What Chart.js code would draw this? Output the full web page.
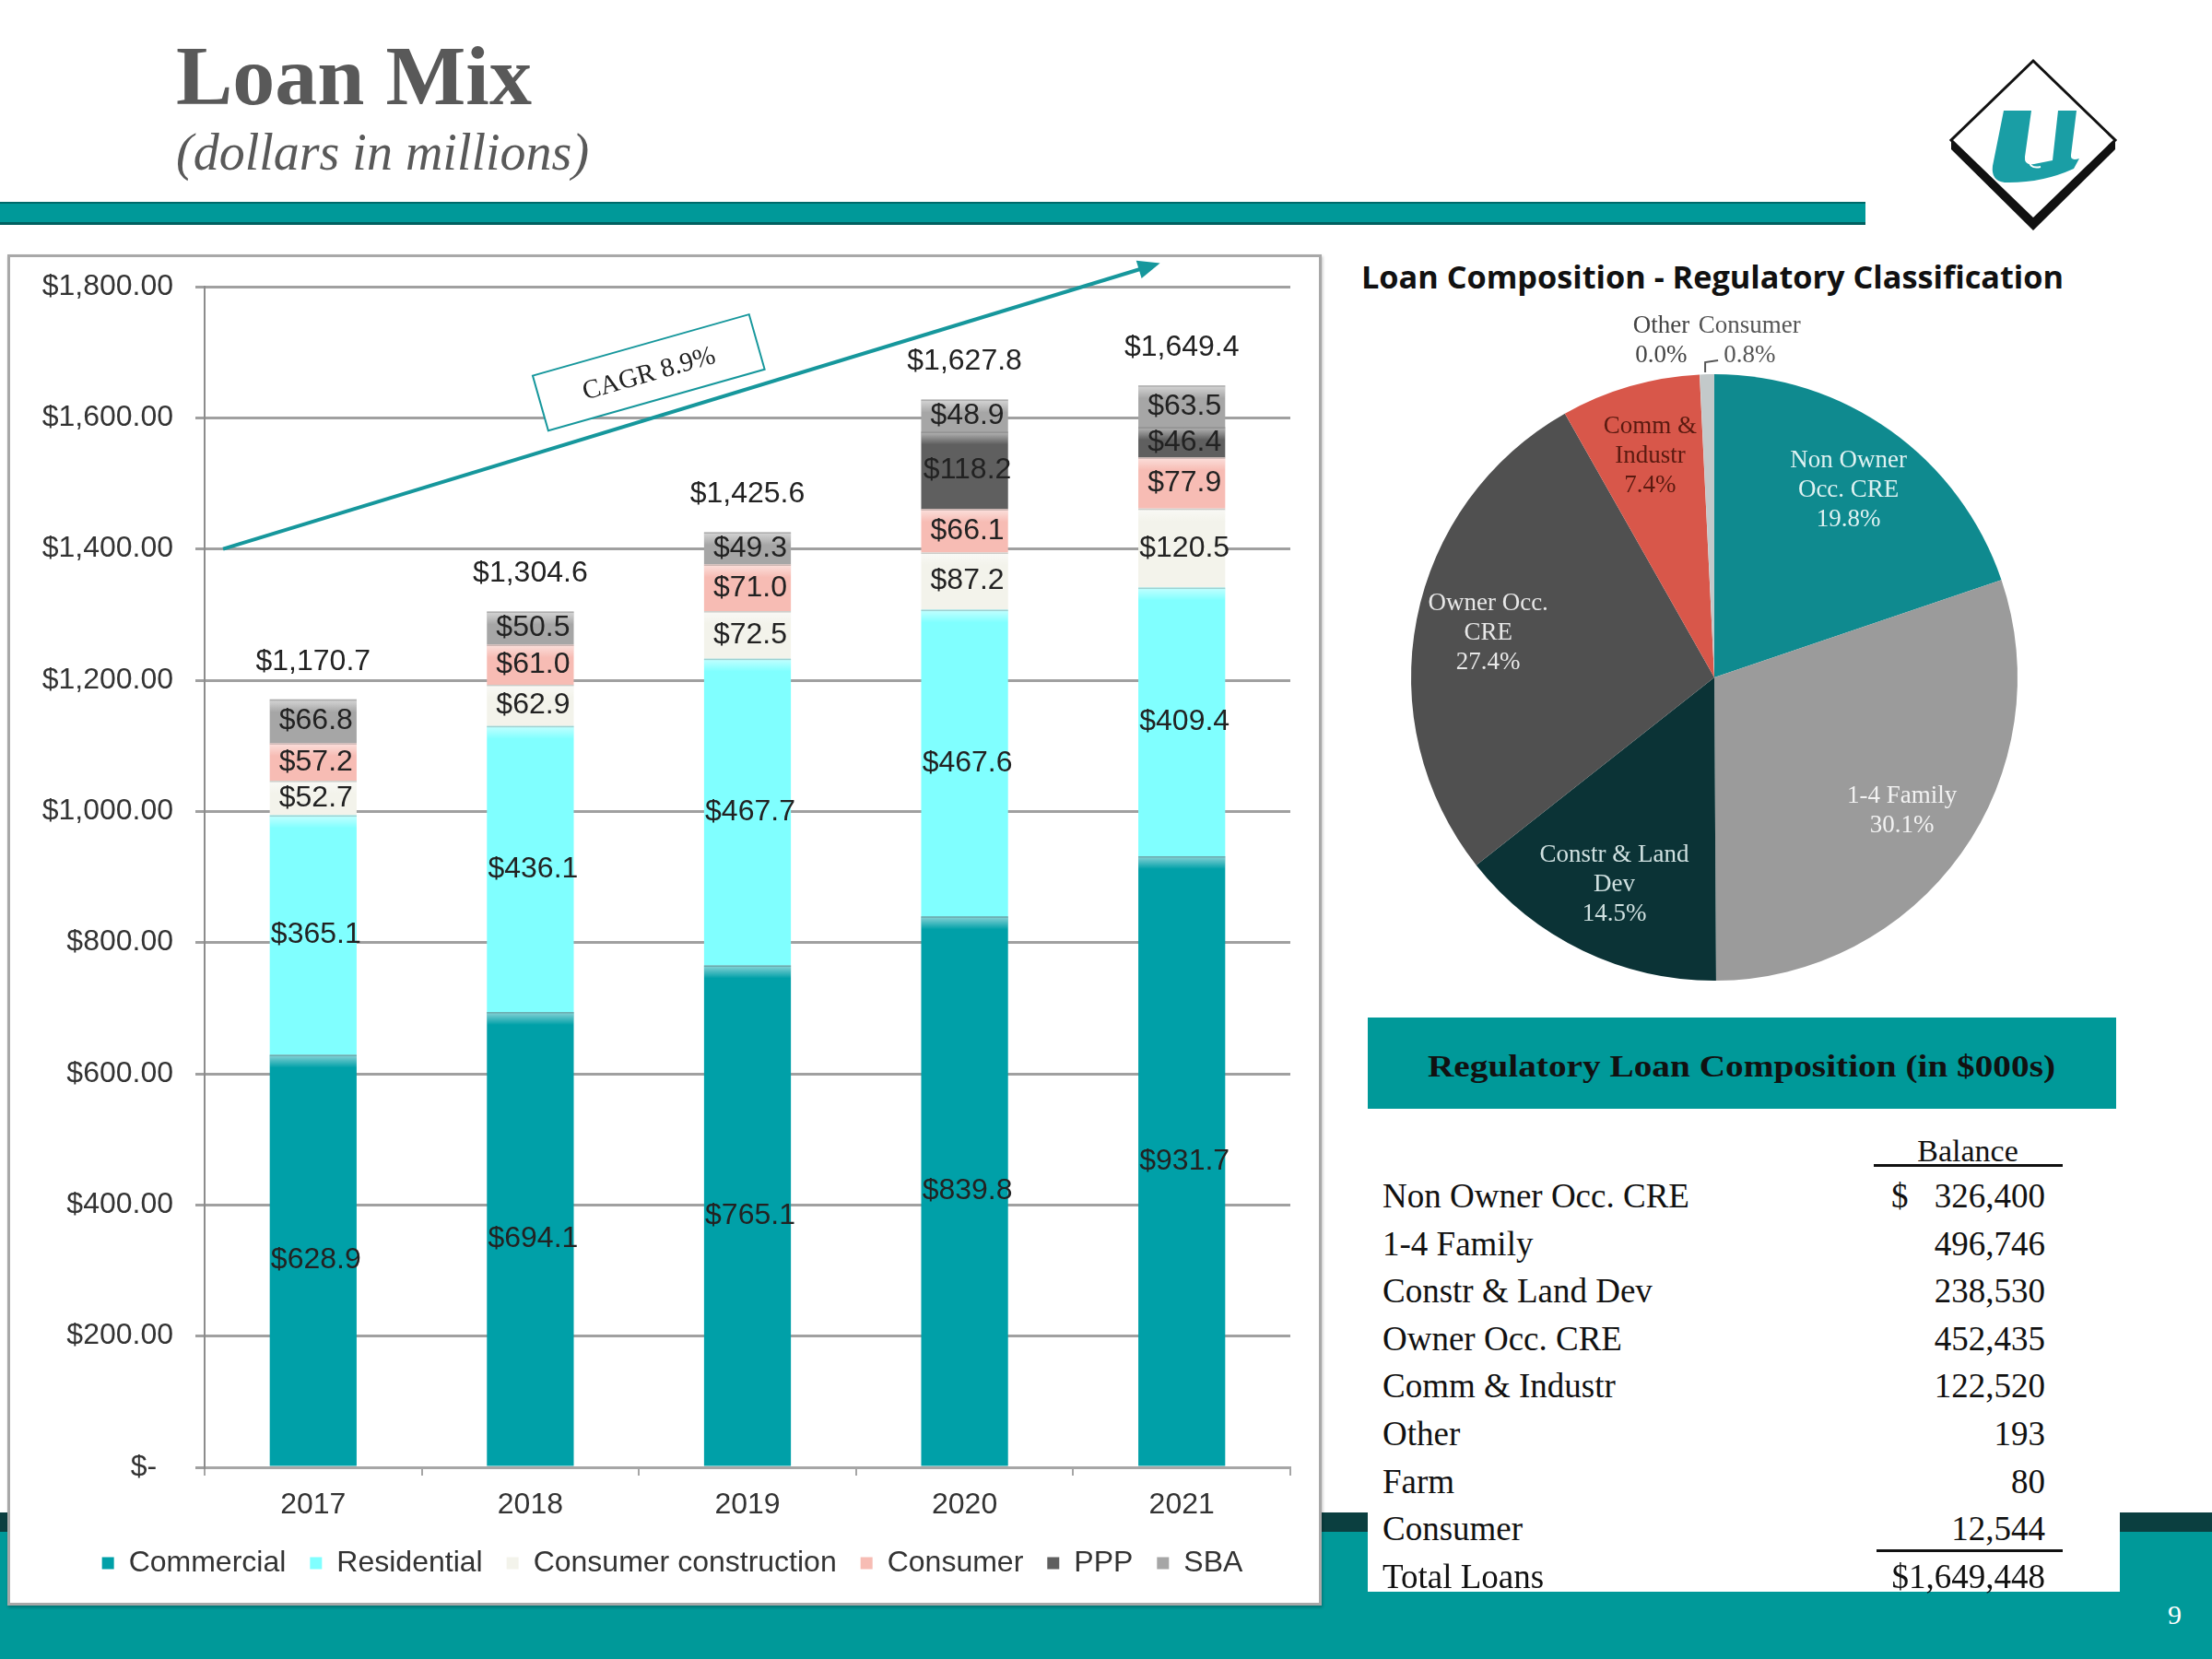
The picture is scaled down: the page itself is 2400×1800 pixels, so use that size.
<!DOCTYPE html>
<html>
<head>
<meta charset="utf-8">
<title>Loan Mix</title>
<script src="https://cdn.jsdelivr.net/npm/chart.js@4.4.1/dist/chart.umd.min.js"></script>
<style>
    body { margin: 0; width: 2400px; height: 1800px; position: relative; overflow: hidden; background: #fff; font-family: "Liberation Serif", "Times New Roman", serif; }
    .abs { position: absolute; white-space: nowrap; }
    #titulo { left: 191px; top: 36px; font-size: 92px; line-height: 92px; font-weight: bold; color: #595959; }
    #subtitulo { left: 191px; top: 137px; font-size: 56px; line-height: 56px; font-style: italic; color: #595959; }
    #barraTop { left: 0; top: 219px; width: 2024px; height: 25px; background: #009999; border-top: 2px solid #006a6a; border-bottom: 3px solid #005f5f; box-sizing: border-box; }
    #franjaOscura { left: 0; top: 1641px; width: 2400px; height: 22px; background: #0b3f40; }
    #franjaTeal { left: 0; top: 1662px; width: 2400px; height: 138px; background: #009999; }
    #cajaGrafico { left: 8px; top: 276px; width: 1426px; height: 1466px; background: #fff; border: 3px solid #a8a8a8; box-sizing: border-box; box-shadow: 1px 2px 3px rgba(0,0,0,0.25); }
    #barras { position: absolute; left: 0; top: 0; }
    #tituloPie { left: 1477px; top: 279px; font-family: "Open Sans", sans-serif; font-weight: bold; font-size: 34px; line-height: 42px; color: #111; transform-origin: left center; }
    #pie { position: absolute; left: 1480px; top: 335px; }
    #cabeceraTabla { left: 1484px; top: 1104px; width: 812px; height: 99px; background: #009999; }
    #cabeceraTexto { left: 1549px; top: 1137px; font-weight: bold; font-size: 34px; line-height: 40px; color: #111; transform-origin: left center; }
    #cuerpoTabla { left: 1484px; top: 1203px; width: 816px; height: 524px; background: #fff; }
    .fila { font-size: 37px; line-height: 40px; color: #111; }
    .linea { height: 0; border-top: 3px solid #111; }
    #pagina { left: 2352px; top: 1732px; font-size: 30px; line-height: 40px; color: #fff; }
</style>
</head>
<body>
<div class="abs" id="titulo">Loan Mix</div>
<div class="abs" id="subtitulo">(dollars in millions)</div>
<div class="abs" id="barraTop"></div>
<svg class="abs" style="left:2100px;top:50px" width="220" height="220" viewBox="2100 50 220 220">
    <polygon points="2206,66 2295,152 2206,238 2117,152" fill="#fff" stroke="#111" stroke-width="3"/>
    <polygon points="2117,152 2206,238 2295,152 2295,162 2206,250 2117,162" fill="#111"/>
    <path d="M2174,120 L2204,120 L2197,170 Q2196,180 2207,178 L2227,174 L2233,120 L2253,120 L2247,168 Q2246,175 2256,172 L2250,183 Q2215,199 2175,198 Q2160,196 2162,180 Z" fill="#1a9ea5"/>
    <path d="M2210,122 L2202,170 Q2200,184 2214,181" fill="none" stroke="#fff" stroke-width="2"/>
</svg>
<div class="abs" id="franjaOscura"></div>
<div class="abs" id="franjaTeal"></div>
<div class="abs" id="cajaGrafico"><canvas id="barras" width="1420" height="1460"></canvas></div>
<div class="abs" id="tituloPie">Loan Composition - Regulatory Classification</div>
<canvas id="pie" width="760" height="800"></canvas>
<div class="abs" id="cabeceraTabla"></div>
<div class="abs" id="cabeceraTexto">Regulatory Loan Composition (in $000s)</div>
<div class="abs" id="cuerpoTabla"></div>
<div class="abs" id="pagina">9</div>

<script>
const years = ['2017', '2018', '2019', '2020', '2021'];
const commercial = [628.9, 694.1, 765.1, 839.8, 931.7];
const residential = [365.1, 436.1, 467.7, 467.6, 409.4];
const consumerConstruction = [52.7, 62.9, 72.5, 87.2, 120.5];
const consumer = [57.2, 61.0, 71.0, 66.1, 77.9];
const ppp = [0, 0, 0, 118.2, 46.4];
const sba = [66.8, 50.5, 49.3, 48.9, 63.5];
const cagrText = 'CAGR 8.9%';

const tableLabels = ['Non Owner Occ. CRE', '1-4 Family', 'Constr & Land Dev', 'Owner Occ. CRE', 'Comm & Industr', 'Other', 'Farm', 'Consumer'];
const tableValues = [326400, 496746, 238530, 452435, 122520, 193, 80, 12544];

const pieLabels = [['Non Owner', 'Occ. CRE'], ['1-4 Family'], ['Constr & Land', 'Dev'], ['Owner Occ.', 'CRE'], ['Comm &', 'Industr'], ['Other'], ['Consumer']];
const pieValues = [326400, 496746, 238530, 452435, 122520, 193, 12544];

const sansFont = "'Liberation Sans', Arial, sans-serif";
const serifFont = "'Liberation Serif', 'Times New Roman', serif";

function money1(v) {
    return '$' + v.toLocaleString('en-US', { minimumFractionDigits: 1, maximumFractionDigits: 1 });
}

// brillo en la parte alta de cada segmento
const glossPlugin = {
    id: 'gloss',
    afterDatasetsDraw(chart) {
        const ctx = chart.ctx;
        ctx.save();
        chart.data.datasets.forEach((ds, i) => {
            chart.getDatasetMeta(i).data.forEach((bar, j) => {
                if (!ds.data[j]) return;
                const h = Math.min(14, bar.base - bar.y);
                const g = ctx.createLinearGradient(0, bar.y, 0, bar.y + h);
                g.addColorStop(0, 'rgba(255,255,255,0.55)');
                g.addColorStop(1, 'rgba(255,255,255,0)');
                ctx.fillStyle = g;
                ctx.fillRect(bar.x - bar.width / 2, bar.y, bar.width, h);
                ctx.fillStyle = 'rgba(0,0,0,0.18)';
                ctx.fillRect(bar.x - bar.width / 2, bar.y, bar.width, 1.5);
            });
        });
        ctx.restore();
    }
};

const labelsPlugin = {
    id: 'labels',
    afterDraw(chart) {
        const ctx = chart.ctx;
        const y = chart.scales.y;
        ctx.save();
        ctx.font = '32px ' + sansFont;
        ctx.textAlign = 'center';
        ctx.textBaseline = 'middle';
        ctx.fillStyle = '#222';
        chart.data.datasets.forEach((ds, i) => {
            chart.getDatasetMeta(i).data.forEach((bar, j) => {
                const v = ds.data[j];
                if (!v) return;
                ctx.fillText(money1(v), bar.x + 3, (bar.y + bar.base) / 2);
            });
        });
        const meta0 = chart.getDatasetMeta(0);
        years.forEach((yr, j) => {
            let total = 0;
            chart.data.datasets.forEach(ds => { total += ds.data[j]; });
            ctx.fillText(money1(total), meta0.data[j].x, y.getPixelForValue(total) - 41);
        });
        ctx.restore();
    }
};

const cagrPlugin = {
    id: 'cagr',
    afterDraw(chart) {
        const ctx = chart.ctx;
        const x = chart.scales.x;
        const y = chart.scales.y;
        const step = x.getPixelForValue(1) - x.getPixelForValue(0);
        const px = idx => x.getPixelForValue(0) + idx * step;
        const x1 = px(-0.415), y1 = y.getPixelForValue(1400);
        const x2 = px(3.9), y2 = y.getPixelForValue(1836);
        const ang = Math.atan2(y2 - y1, x2 - x1);
        ctx.save();
        ctx.strokeStyle = '#16979c';
        ctx.fillStyle = '#16979c';
        ctx.lineWidth = 4;
        ctx.beginPath();
        ctx.moveTo(x1, y1);
        ctx.lineTo(x2 - 20 * Math.cos(ang), y2 - 20 * Math.sin(ang));
        ctx.stroke();
        ctx.translate(x2, y2);
        ctx.rotate(ang);
        ctx.beginPath();
        ctx.moveTo(0, 0);
        ctx.lineTo(-24, -10);
        ctx.lineTo(-24, 10);
        ctx.closePath();
        ctx.fill();
        ctx.restore();

        ctx.save();
        ctx.translate(px(1.545), y.getPixelForValue(1669));
        ctx.rotate(ang + 0.02);
        ctx.fillStyle = '#fff';
        ctx.fillRect(-122, -31, 244, 62);
        ctx.strokeStyle = '#16979c';
        ctx.lineWidth = 2;
        ctx.strokeRect(-122, -31, 244, 62);
        ctx.fillStyle = '#222';
        ctx.font = '29px ' + serifFont;
        ctx.textAlign = 'center';
        ctx.textBaseline = 'middle';
        ctx.fillText(cagrText, 0, 2);
        ctx.restore();
    }
};

// la leyenda queda un poco a la derecha
const legendShift = {
    id: 'legendShift',
    afterLayout(chart) {
        chart.legend.left += 24;
        chart.legend.right += 24;
    }
};

const barChart = new Chart(document.getElementById('barras'), {
    type: 'bar',
    data: {
        labels: years,
        datasets: [
            { label: 'Commercial', data: commercial, backgroundColor: '#00a0a8' },
            { label: 'Residential', data: residential, backgroundColor: '#80ffff' },
            { label: 'Consumer construction', data: consumerConstruction, backgroundColor: '#f3f3eb' },
            { label: 'Consumer', data: consumer, backgroundColor: '#f7bcb4' },
            { label: 'PPP', data: ppp, backgroundColor: '#5f5f5f' },
            { label: 'SBA', data: sba, backgroundColor: '#a6a6a6' }
        ]
    },
    options: {
        responsive: false,
        animation: false,
        layout: { padding: { left: 0, right: 31, top: 32, bottom: 17 } },
        datasets: { bar: { barPercentage: 0.4, categoryPercentage: 1.0 } },
        scales: {
            x: {
                stacked: true,
                grid: { drawOnChartArea: false, offset: true, tickLength: 9, color: '#a6a6a6', lineWidth: 2 },
                border: { color: '#a6a6a6', width: 3 },
                ticks: { color: '#333', padding: 13, font: { family: sansFont, size: 32 } },
                afterFit: s => { s.height = 62; }
            },
            y: {
                stacked: true,
                min: 0,
                max: 1800,
                grid: { color: '#a0a0a0', lineWidth: 3, tickLength: 10 },
                border: { color: '#8c8c8c', width: 2 },
                ticks: {
                    stepSize: 200,
                    padding: 24,
                    color: '#333',
                    font: { family: sansFont, size: 32, lineHeight: 0.5 },
                    callback: v => v === 0 ? '$-  ' : '$' + v.toLocaleString('en-US', { minimumFractionDigits: 2 })
                },
                afterFit: s => { s.width = 211; }
            }
        },
        plugins: {
            legend: {
                position: 'bottom',
                labels: { boxWidth: 13, boxHeight: 13, padding: 26, color: '#333', font: { family: sansFont, size: 32 } }
            },
            tooltip: { enabled: false }
        }
    },
    plugins: [glossPlugin, labelsPlugin, cagrPlugin, legendShift]
});

// textos del pie
const tableTotal = tableValues.reduce((a, b) => a + b, 0);
const pieTextColors = ['#dff2f2', '#f2f2f2', '#cfe0e0', '#e8e8e8', '#5a1a10', '#444', '#555'];

const pieLabelsPlugin = {
    id: 'pieLabels',
    afterDraw(chart) {
        const ctx = chart.ctx;
        ctx.save();
        ctx.font = '27px ' + serifFont;
        ctx.textAlign = 'center';
        ctx.textBaseline = 'middle';
        chart.getDatasetMeta(0).data.forEach((arc, i) => {
            const mid = (arc.startAngle + arc.endAngle) / 2;
            const small = pieValues[i] / tableTotal < 0.02;
            const r = small ? arc.outerRadius * 1.11 : arc.outerRadius * 0.76;
            let cx = arc.x + Math.cos(mid) * r;
            const cy = arc.y + Math.sin(mid) * r;
            if (small) cx += (i === 5 ? -40 : 47);
            const lines = pieLabels[i].concat([(pieValues[i] / tableTotal * 100).toFixed(1) + '%']);
            ctx.fillStyle = pieTextColors[i];
            lines.forEach((t, k) => {
                ctx.fillText(t, cx, cy + (k - (lines.length - 1) / 2) * 32);
            });
            if (i === 6) {
                const ex = arc.x + Math.cos(mid) * (arc.outerRadius + 2);
                const ey = arc.y + Math.sin(mid) * (arc.outerRadius + 2);
                ctx.strokeStyle = '#555';
                ctx.lineWidth = 2;
                ctx.beginPath();
                ctx.moveTo(ex - 2, ey);
                ctx.lineTo(ex - 2, ey - 11);
                ctx.lineTo(ex + 12, ey - 13);
                ctx.stroke();
            }
        });
        ctx.restore();
    }
};

const pieChart = new Chart(document.getElementById('pie'), {
    type: 'pie',
    data: {
        labels: pieLabels.map(l => l.join(' ')),
        datasets: [{
            data: pieValues,
            backgroundColor: ['#0f8a8f', '#9b9b9b', '#0b3336', '#505050', '#d8574a', '#c8c8c8', '#c3c9ca'],
            borderWidth: 0,
            hoverOffset: 0
        }]
    },
    options: {
        responsive: false,
        animation: false,
        layout: { padding: { left: 51, right: 51, top: 71, bottom: 71 } },
        plugins: { legend: { display: false }, tooltip: { enabled: false } }
    },
    plugins: [pieLabelsPlugin]
});

// tabla
function addText(text, css) {
    const d = document.createElement('div');
    d.className = 'abs fila';
    d.textContent = text;
    Object.assign(d.style, css);
    document.body.appendChild(d);
    return d;
}

function addLine(left, top, width) {
    const d = document.createElement('div');
    d.className = 'abs linea';
    Object.assign(d.style, { left: left + 'px', top: top + 'px', width: width + 'px' });
    document.body.appendChild(d);
}

addText('Balance', { left: '2135px', top: '1229px', transform: 'translateX(-50%)', fontSize: '34px' });
addLine(2033, 1263, 205);

tableLabels.forEach((lab, i) => {
    const top = 1278 + i * 51.6;
    addText(lab, { left: '1500px', top: top + 'px' });
    addText(tableValues[i].toLocaleString('en-US'), { right: '181px', top: top + 'px' });
    if (i === 0) addText('$', { left: '2052px', top: top + 'px' });
});
const totalTop = 1278 + tableLabels.length * 51.6;
addLine(2036, 1681, 202);
addText('Total Loans', { left: '1500px', top: totalTop + 'px' });
addText('$' + tableTotal.toLocaleString('en-US'), { right: '181px', top: totalTop + 'px' });

function fitWidth(el, w) {
    const actual = el.getBoundingClientRect().width;
    if (actual > 0) el.style.transform = 'scaleX(' + (w / actual) + ')';
}
fitWidth(document.getElementById('tituloPie'), 762);
fitWidth(document.getElementById('cabeceraTexto'), 681);
</script>
</body>
</html>
